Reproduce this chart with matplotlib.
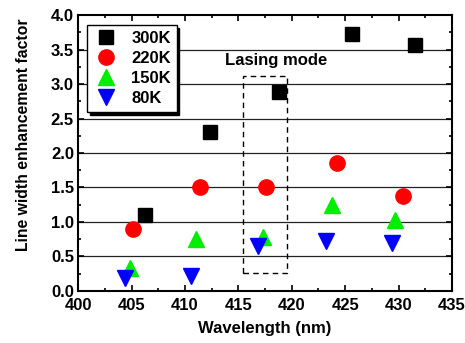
import matplotlib
matplotlib.use('Agg')
import matplotlib.pyplot as plt
from matplotlib.patches import Rectangle
from matplotlib.ticker import MultipleLocator

plt.rcParams['font.family'] = ['Liberation Sans', 'DejaVu Sans']
plt.rcParams['font.weight'] = 'bold'

# data
wl_300 = [406.3, 412.3, 418.8, 425.6, 431.5]
lef_300 = [1.10, 2.30, 2.88, 3.72, 3.57]
wl_220 = [405.1, 411.4, 417.6, 424.2, 430.4]
lef_220 = [0.90, 1.51, 1.51, 1.86, 1.38]
wl_150 = [404.9, 411.0, 417.3, 423.8, 429.7]
lef_150 = [0.33, 0.75, 0.78, 1.25, 1.03]
wl_80 = [404.4, 410.6, 416.8, 423.2, 429.4]
lef_80 = [0.18, 0.22, 0.65, 0.72, 0.70]

FS = 12

fig = plt.figure(figsize=(4.65, 3.43), dpi=100)
ax = fig.add_axes([0.168, 0.152, 0.804, 0.804])

for y in [0.5, 1.0, 1.5, 2.0, 2.5, 3.0, 3.5]:
    ax.axhline(y, color='#222222', lw=0.9, zorder=1)

ax.plot(wl_300, lef_300, 's', color='black', ms=10, ls='none', label='300K', zorder=3)
ax.plot(wl_220, lef_220, 'o', color='red', ms=11, ls='none', label='220K', zorder=3)
ax.plot(wl_150, lef_150, '^', color='#00ee00', ms=11, ls='none', label='150K', zorder=3)
ax.plot(wl_80, lef_80, 'v', color='blue', ms=11, ls='none', label='80K', zorder=3)

# lasing mode box
ax.add_patch(Rectangle((415.4, 0.26), 4.2, 2.86, fill=False, ls=(0, (4, 3)),
                       lw=1.0, edgecolor='black', zorder=2))
ax.text(418.5, 3.34, 'Lasing mode', ha='center', va='center', fontsize=FS,
        fontweight='bold')

ax.set_xlim(400, 435)
ax.set_ylim(0, 4.0)
ax.xaxis.set_major_locator(MultipleLocator(5))
ax.xaxis.set_minor_locator(MultipleLocator(2.5))
ax.yaxis.set_major_locator(MultipleLocator(0.5))
ax.yaxis.set_minor_locator(MultipleLocator(0.25))
ax.tick_params(which='both', direction='in', top=True, right=True, width=1.2,
               labelsize=FS)
ax.tick_params(which='major', length=4)
ax.tick_params(which='minor', length=2.5)
ax.tick_params(axis='x', which='major', pad=5)
ax.tick_params(axis='y', which='major', pad=3)
for s in ax.spines.values():
    s.set_linewidth(1.5)

ax.set_xlabel('Wavelength (nm)', fontsize=FS, fontweight='bold', labelpad=6)
ax.set_ylabel('Line width enhancement factor', fontsize=11.3, fontweight='bold')
ax.yaxis.set_label_coords(-0.126, 0.565)

leg = ax.legend(loc='upper left', bbox_to_anchor=(0.015, 0.975), fancybox=False,
                edgecolor='black', framealpha=1, fontsize=FS,
                shadow={'color': 'black', 'alpha': 1}, handletextpad=0.7,
                borderpad=0.35, labelspacing=0.3, borderaxespad=0.2,
                handlelength=1.6)
leg.get_frame().set_linewidth(1.0)

fig.savefig('out.png', dpi=100)
